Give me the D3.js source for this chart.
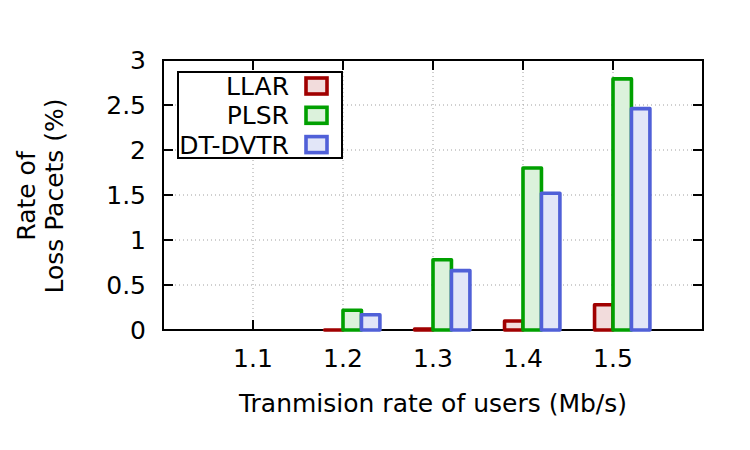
<!DOCTYPE html>
<html>
<head>
<meta charset="utf-8">
<script src="https://cdn.jsdelivr.net/npm/d3@7.9.0/dist/d3.min.js"></script>
<style>
  body { margin: 0; background: #fff; }
  svg text { font-family: "DejaVu Sans", sans-serif; }
</style>
</head>
<body>
<svg id="chart" width="750" height="450"></svg>
<script>
// data
const rates = [1.1, 1.2, 1.3, 1.4, 1.5];
const llar = [null, 0.0, 0.01, 0.1, 0.28];
const plsr = [null, 0.22, 0.78, 1.8, 2.79];
const dtdvtr = [null, 0.17, 0.66, 1.52, 2.46];
const yTicks = [0, 0.5, 1, 1.5, 2, 2.5, 3];

const series = [
  { name: "LLAR", values: llar, stroke: "#a00000", fill: "#f2dcdc" },
  { name: "PLSR", values: plsr, stroke: "#00a000", fill: "#dcf2dc" },
  { name: "DT-DVTR", values: dtdvtr, stroke: "#5060d8", fill: "#e2e6f8" }
];

const svg = d3.select("#chart");
const margin = { top: 60, right: 47, bottom: 120, left: 163 };
const width = 750 - margin.left - margin.right;
const height = 450 - margin.top - margin.bottom;
const fs = "25px";

const g = svg.append("g")
  .attr("transform", `translate(${margin.left},${margin.top})`);

const x = d3.scaleLinear().domain([1.0, 1.6]).range([0, width]);
const y = d3.scaleLinear().domain([0, 3]).range([height, 0]);

// dotted grid
g.selectAll("line.hgrid")
  .data(yTicks.slice(1, -1))
  .enter().append("line")
  .attr("x1", 0).attr("x2", width)
  .attr("y1", d => y(d)).attr("y2", d => y(d))
  .attr("stroke", "#a0a0a0").attr("stroke-width", 1)
  .attr("stroke-dasharray", "1,3");

g.selectAll("line.vgrid")
  .data(rates)
  .enter().append("line")
  .attr("x1", d => x(d)).attr("x2", d => x(d))
  .attr("y1", 0).attr("y2", height)
  .attr("stroke", "#a0a0a0").attr("stroke-width", 1)
  .attr("stroke-dasharray", "1,3");

// frame + inside ticks (mirrored)
g.append("rect")
  .attr("width", width).attr("height", height)
  .attr("fill", "none").attr("stroke", "#000").attr("stroke-width", 2);

const tickLen = 10;
yTicks.forEach(t => {
  g.append("line").attr("x1", 0).attr("x2", tickLen)
    .attr("y1", y(t)).attr("y2", y(t)).attr("stroke", "#000").attr("stroke-width", 2);
  g.append("line").attr("x1", width).attr("x2", width - tickLen)
    .attr("y1", y(t)).attr("y2", y(t)).attr("stroke", "#000").attr("stroke-width", 2);
  g.append("text")
    .attr("x", -17).attr("y", y(t))
    .attr("dy", "0.36em")
    .attr("text-anchor", "end")
    .style("font-size", fs)
    .text(t);
});
rates.forEach(t => {
  g.append("line").attr("x1", x(t)).attr("x2", x(t))
    .attr("y1", height).attr("y2", height - tickLen).attr("stroke", "#000").attr("stroke-width", 2);
  g.append("line").attr("x1", x(t)).attr("x2", x(t))
    .attr("y1", 0).attr("y2", tickLen).attr("stroke", "#000").attr("stroke-width", 2);
  g.append("text")
    .attr("x", x(t)).attr("y", height + 37)
    .attr("text-anchor", "middle")
    .style("font-size", fs)
    .text(d3.format(".1f")(t));
});

// bars as outlined paths, so zero values still show a baseline stroke
const barW = x(1.0 + 0.0205) - x(1.0);
series.forEach((s, i) => {
  g.selectAll(null)
    .data(rates.map((r, j) => ({ r, v: s.values[j] })).filter(d => d.v !== null))
    .enter().append("path")
    .attr("d", d => {
      const x0 = x(d.r) + (i - 1) * barW;
      const p = d3.path();
      p.moveTo(x0, y(0));
      p.lineTo(x0, y(d.v));
      p.lineTo(x0 + barW, y(d.v));
      p.lineTo(x0 + barW, y(0));
      p.closePath();
      return p.toString();
    })
    .attr("fill", s.fill)
    .attr("stroke", s.stroke)
    .attr("stroke-width", 3.6)
    .attr("stroke-linejoin", "round");
});

// legend
const lg = g.append("g").attr("transform", "translate(15,12)");
lg.append("rect")
  .attr("width", 164).attr("height", 86)
  .attr("fill", "#fff").attr("stroke", "#000").attr("stroke-width", 2);
series.forEach((s, i) => {
  const cy = 14 + i * 29.3;
  lg.append("text")
    .attr("x", 111).attr("y", cy)
    .attr("dy", "0.36em")
    .attr("text-anchor", "end")
    .style("font-size", fs)
    .text(s.name);
  lg.append("rect")
    .attr("x", 128).attr("y", cy - 8)
    .attr("width", 21).attr("height", 16)
    .attr("fill", s.fill).attr("stroke", s.stroke).attr("stroke-width", 3.6);
});

// axis titles
svg.append("text")
  .attr("x", margin.left + width / 2).attr("y", 412)
  .attr("text-anchor", "middle")
  .style("font-size", fs)
  .text("Tranmision rate of users (Mb/s)");

const yt = svg.append("text")
  .attr("transform", "translate(0,196) rotate(-90)")
  .attr("text-anchor", "middle")
  .style("font-size", fs);
yt.append("tspan").attr("x", 0).attr("y", 35).text("Rate of");
yt.append("tspan").attr("x", 0).attr("y", 63).text("Loss Pacets (%)");
</script>
</body>
</html>
